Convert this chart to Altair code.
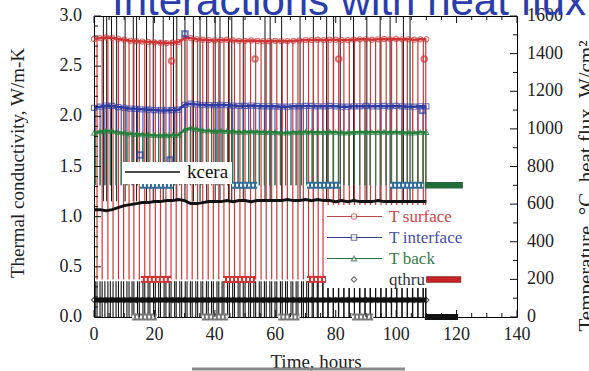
import altair as alt
import pandas as pd

# ---------------- data ----------------
hours = [0, 2, 4, 6, 8, 10, 12, 14, 16, 18, 20, 22, 24, 26, 28, 30, 32, 34, 36, 38,
         40, 42, 44, 46, 48, 50, 52, 54, 56, 58, 60, 62, 64, 66, 68, 70, 72, 74, 76, 78,
         80, 82, 84, 86, 88, 90, 92, 94, 96, 98, 100, 102, 104, 106, 108, 110]

t_surface = [1478, 1482, 1486, 1484, 1478, 1474, 1468, 1466, 1464, 1462,
             1460, 1458, 1456, 1458, 1462, 1484, 1482, 1476, 1474, 1472,
             1470, 1472, 1474, 1470, 1468, 1468, 1470, 1468, 1466, 1466,
             1468, 1466, 1466, 1468, 1470, 1472, 1472, 1474, 1472, 1474,
             1474, 1472, 1472, 1474, 1476, 1476, 1474, 1476, 1478, 1476,
             1478, 1476, 1476, 1474, 1476, 1476]

t_interface = [1112, 1118, 1124, 1122, 1116, 1112, 1108, 1106, 1104, 1102,
               1100, 1098, 1098, 1100, 1102, 1128, 1134, 1130, 1128, 1126,
               1126, 1128, 1126, 1124, 1122, 1122, 1124, 1122, 1120, 1120,
               1120, 1118, 1118, 1120, 1120, 1122, 1122, 1120, 1120, 1122,
               1120, 1118, 1118, 1120, 1120, 1122, 1120, 1120, 1122, 1120,
               1122, 1120, 1118, 1118, 1120, 1120]

t_back = [978, 986, 990, 988, 982, 978, 974, 972, 970, 968,
          966, 965, 965, 966, 968, 995, 1005, 998, 992, 990,
          988, 990, 988, 986, 984, 984, 986, 984, 982, 982,
          982, 980, 980, 982, 982, 984, 984, 982, 982, 984,
          982, 980, 980, 982, 984, 984, 982, 982, 984, 982,
          984, 982, 980, 980, 982, 982]

kcera = [1.07, 1.07, 1.06, 1.07, 1.09, 1.11, 1.12, 1.13, 1.14, 1.14,
         1.15, 1.15, 1.16, 1.16, 1.17, 1.16, 1.13, 1.13, 1.14, 1.15,
         1.15, 1.15, 1.16, 1.15, 1.16, 1.16, 1.15, 1.16, 1.16, 1.16,
         1.16, 1.16, 1.17, 1.16, 1.16, 1.17, 1.16, 1.17, 1.16, 1.16,
         1.15, 1.16, 1.15, 1.16, 1.15, 1.15, 1.15, 1.16, 1.15, 1.15,
         1.15, 1.15, 1.15, 1.15, 1.15, 1.15]

qthru = [91, 90, 90, 91, 90, 90, 91, 90, 90, 91,
         90, 90, 91, 90, 90, 91, 90, 90, 91, 90,
         90, 91, 90, 90, 91, 90, 90, 91, 90, 90,
         91, 90, 90, 91, 90, 90, 91, 90, 90, 91,
         90, 90, 91, 90, 90, 91, 90, 90, 91, 90,
         90, 91, 90, 90, 91, 90]

# times of the thermal cycles (vertical drops), hours
red_cycles = [1.0, 2.7, 4.6, 6.3, 8.1, 9.8, 11.6, 13.2, 15.0, 16.8, 18.5, 20.3, 22.0,
              23.8, 25.5, 27.2, 29.0, 30.8, 32.5, 34.3, 36.0, 37.8, 39.5, 41.3, 43.0,
              44.8, 46.5, 48.3, 50.0, 51.8, 53.5, 55.3, 57.0, 58.8, 60.5, 62.3, 64.0,
              65.8, 67.5, 69.3, 71.0, 72.6, 74.2, 75.8, 77.5, 79.2, 81.0, 82.7, 84.5,
              86.2, 88.0, 89.7, 91.5, 93.2, 95.0, 96.7, 98.5, 100.2, 102.0, 103.7,
              105.5, 107.2, 109.0, 109.8]
green_cycles = [0.4, 2.0, 3.6, 5.4, 7.3, 9.0, 10.9, 12.6, 14.4, 16.2, 17.9, 19.7, 21.4,
                23.2, 24.9, 26.7, 28.4, 30.2, 31.9, 33.7, 35.4, 37.2, 38.9, 40.7, 42.4,
                44.2, 45.9, 47.7, 49.4, 51.2, 52.9, 54.7, 56.4, 58.2, 59.9, 61.7, 63.4,
                65.2, 66.9, 68.7, 70.4, 72.2, 73.9, 75.7, 77.4, 79.2, 80.9, 82.7, 84.4,
                86.2, 87.9, 89.7, 91.4, 93.2, 94.9, 96.7, 98.4, 100.2, 101.9, 103.7,
                105.4, 107.2, 108.9, 109.8]
kcera_spikes = [3.1, 4.2, 5.8, 7.5, 10.3, 13.0, 14.1, 17.4, 19.6, 22.9, 26.3, 27.4,
                30.1, 32.9, 35.1, 37.3, 40.1, 41.7, 44.5, 45.6, 49.4, 56.6, 58.3, 62.1,
                68.2, 72.6, 77.0, 79.3, 81.5, 85.9, 90.3, 94.7, 98.0, 102.4, 104.6]

# levels reached during the drops
surface_low, back_low, qthru_peak, kcera_top = 200, 700, 190, 1600

# hold periods (start, end) recorded as dense markers
hold_700_start = [15.2, 45.7, 70.5, 98.0]
hold_700_end = [26.2, 54.0, 81.5, 109.0]
hold_200_start = [15.5, 42.7, 70.5, 98.0]
hold_200_end = [25.5, 53.3, 81.0, 109.0]
hold_0_start = [12.6, 35.7, 61.0, 85.4]
hold_0_end = [20.8, 44.4, 68.0, 92.4]
tail_start = [109.5, 110.0, 109.5]
tail_end = [122.0, 121.5, 120.5]
tail_level = [700, 200, 0]

# isolated points
out_surface_t = [25.7, 53.3, 81.0, 109.3]
out_surface_v = [1361, 1371, 1371, 1371]
out_interface_t = [15.2, 25.2, 30.1, 108.7]
out_interface_v = [861, 834, 1505, 1097]

# tick values
x_major = [0, 20, 40, 60, 80, 100, 120, 140]
x_minor = [5, 10, 15, 25, 30, 35, 45, 50, 55, 65, 70, 75, 85, 90, 95, 105, 110, 115,
           125, 130, 135]
left_major = [0.0, 0.5, 1.0, 1.5, 2.0, 2.5, 3.0]
left_minor = [0.1, 0.2, 0.3, 0.4, 0.6, 0.7, 0.8, 0.9, 1.1, 1.2, 1.3, 1.4, 1.6, 1.7,
              1.8, 1.9, 2.1, 2.2, 2.3, 2.4, 2.6, 2.7, 2.8, 2.9]
right_major = [0, 200, 400, 600, 800, 1000, 1200, 1400, 1600]
right_minor = [100, 300, 500, 700, 900, 1100, 1300, 1500]

K2C = 1600 / 3.0  # left axis 3.0 W/m-K <-> right axis 1600

# ---------------- styling ----------------
W, H = 423, 301
SERIF = "Liberation Serif"
RED, BLUE, GREEN, BLACK = "#d03434", "#2c3ca6", "#22803a", "#111111"
LABEL = "#222222"

XS = alt.Scale(domain=[0, 140], nice=False, zero=False)
YS = alt.Scale(domain=[0, 1600], nice=False, zero=False)


def X(f):
    return alt.X(f, type="quantitative", scale=XS, axis=None)


def Y(f):
    return alt.Y(f, type="quantitative", scale=YS, axis=None)


one = pd.DataFrame({"a": [0]})


def vrules(times, top, bottom, color, width=1.0, opacity=1.0, clip=False):
    df = pd.DataFrame({"t": times, "y1": [top] * len(times), "y2": [bottom] * len(times)})
    return alt.Chart(df).mark_rule(color=color, strokeWidth=width, opacity=opacity,
                                   clip=clip).encode(x=X("t"), y=Y("y1"), y2="y2:Q")


def hrules(starts, ends, levels, color, width, dash=None):
    df = pd.DataFrame({"t0": starts, "t1": ends, "v": levels})
    kw = dict(color=color, strokeWidth=width)
    if dash:
        kw["strokeDash"] = dash
    return alt.Chart(df).mark_rule(**kw).encode(x=X("t0"), x2="t1:Q", y=Y("v"))


series = pd.DataFrame({"t": hours, "ts": t_surface, "ti": t_interface, "tb": t_back,
                       "k": [v * K2C for v in kcera], "q": qthru})


def band(field, color, shape, lw, size):
    base = alt.Chart(series).encode(x=X("t"), y=Y(field))
    return [base.mark_line(color=color, strokeWidth=lw),
            base.mark_point(shape=shape, filled=False, color=color, size=size, strokeWidth=1.1)]


layers = []
# vertical cycle lines
layers.append(vrules(kcera_spikes, kcera_top, 615, BLACK, 1.0, 1.0, clip=True))
layers.append(vrules(red_cycles + green_cycles, qthru_peak, 0, BLACK, 1.1))
layers.append(vrules(green_cycles, 1118, back_low, "#3446ae", 1.1))
layers.append(vrules(red_cycles, 1472, surface_low, "#d03838", 1.2))
layers.append(vrules(green_cycles, 983, back_low, "#26803f", 1.1))

# hold periods (hatched marker strips)
layers.append(hrules(hold_700_start, hold_700_end, [700] * 4, "#2f6d96", 7))
layers.append(hrules(hold_700_start, hold_700_end, [700] * 4, "white", 3, [2, 2]))
layers.append(hrules(hold_200_start, hold_200_end, [200] * 4, RED, 7))
layers.append(hrules(hold_200_start, hold_200_end, [200] * 4, "white", 3, [2, 2]))
layers.append(hrules(hold_0_start, hold_0_end, [0] * 4, "#777777", 7))
layers.append(hrules(hold_0_start, hold_0_end, [0] * 4, "white", 3, [2, 2]))

# the series themselves
layers += band("tb", GREEN, "triangle-up", 2.5, 26)
layers += band("ti", BLUE, "square", 2.5, 26)
layers += band("ts", RED, "circle", 2.5, 26)
layers.append(alt.Chart(series).mark_line(color=BLACK, strokeWidth=3).encode(x=X("t"), y=Y("k")))
layers += band("q", BLACK, "diamond", 5, 26)

out_s = pd.DataFrame({"t": out_surface_t, "v": out_surface_v})
out_i = pd.DataFrame({"t": out_interface_t, "v": out_interface_v})
layers.append(alt.Chart(out_s).mark_point(shape="circle", filled=False, color=RED, size=30)
              .encode(x=X("t"), y=Y("v")))
layers.append(alt.Chart(out_i).mark_point(shape="square", filled=False, color=BLUE, size=30)
              .encode(x=X("t"), y=Y("v")))

# legend boxes
layers.append(alt.Chart(one).mark_rect(color="white").encode(
    x=alt.value(29), x2=alt.value(138), y=alt.value(146), y2=alt.value(168)))
layers.append(alt.Chart(one).mark_rule(color=BLACK, strokeWidth=1.5).encode(
    x=alt.value(31), x2=alt.value(86), y=alt.value(156)))
layers.append(alt.Chart(one).mark_text(text="kcera", font=SERIF, fontSize=19, align="left",
                                       baseline="middle", color=BLACK).encode(
    x=alt.value(93), y=alt.value(156)))

layers.append(alt.Chart(one).mark_rect(color="white").encode(
    x=alt.value(232), x2=alt.value(368), y=alt.value(189), y2=alt.value(272)))
leg_names = ["T\u2009surface", "T\u2009interface", "T\u2009back", "qthru"]
leg_text_col = ["#d24545", "#3f4fb2", "#3a7a4c", "#333333"]
leg_line_col = ["#b54848", "#323c86", "#2e6c44", None]
leg_shapes = ["circle", "square", "triangle-up", "diamond"]
for i, name in enumerate(leg_names):
    yy = 200.5 + 21 * i
    if leg_line_col[i]:
        layers.append(alt.Chart(one).mark_rule(color=leg_line_col[i], strokeWidth=1.2).encode(
            x=alt.value(233), x2=alt.value(288), y=alt.value(yy)))
    layers.append(alt.Chart(one).mark_point(shape=leg_shapes[i], filled=True, fill="white",
                                            stroke=leg_line_col[i] or "#333333", size=30,
                                            strokeWidth=1.1).encode(
        x=alt.value(260), y=alt.value(yy)))
    layers.append(alt.Chart(one).mark_text(text=name, font=SERIF, fontSize=17, align="left",
                                           baseline="middle", color=leg_text_col[i]).encode(
        x=alt.value(295), y=alt.value(yy)))

# tail after the end of the test
layers.append(hrules(tail_start, tail_end, tail_level, BLACK, 6))
layers.append(hrules(tail_start[:1], tail_end[:1], tail_level[:1], "#1f6e3a", 6))
layers.append(hrules(tail_start[1:2], tail_end[1:2], tail_level[1:2], "#c42424", 6))

# inward ticks


def yticks(vals, x0, x1):
    df = pd.DataFrame({"v": vals})
    return alt.Chart(df).mark_rule(color=BLACK, strokeWidth=1).encode(
        y=Y("v"), x=alt.value(x0), x2=alt.value(x1))


def xticks(vals, y0, y1):
    df = pd.DataFrame({"t": vals})
    return alt.Chart(df).mark_rule(color=BLACK, strokeWidth=1).encode(
        x=X("t"), y=alt.value(y0), y2=alt.value(y1))


layers.append(yticks([v * K2C for v in left_major], 0, 7))
layers.append(yticks([v * K2C for v in left_minor], 0, 4))
layers.append(yticks(right_major, W, W - 7))
layers.append(yticks(right_minor, W, W - 4))
layers.append(xticks(x_major, H, H - 7))
layers.append(xticks(x_minor, H, H - 4))
layers.append(xticks(x_major, 0, 7))
layers.append(xticks(x_minor, 0, 4))

# tick labels
xl = pd.DataFrame({"t": x_major, "lab": [str(v) for v in x_major]})
layers.append(alt.Chart(xl).mark_text(font=SERIF, fontSize=18, color=LABEL, align="center",
                                      baseline="middle").encode(
    x=X("t"), y=alt.value(H + 18), text="lab:N"))
ll = pd.DataFrame({"v": [v * K2C for v in left_major], "lab": [f"{v:.1f}" for v in left_major]})
layers.append(alt.Chart(ll).mark_text(font=SERIF, fontSize=18, color=LABEL, align="right",
                                      baseline="middle").encode(
    y=Y("v"), x=alt.value(-12), text="lab:N"))
rl = pd.DataFrame({"v": right_major, "lab": [str(v) for v in right_major]})
layers.append(alt.Chart(rl).mark_text(font=SERIF, fontSize=18, color=LABEL, align="left",
                                      baseline="middle").encode(
    y=Y("v"), x=alt.value(W + 10), text="lab:N"))

# titles
layers.append(alt.Chart(one).mark_text(text="Interactions with heat flux", font="Liberation Sans",
                                       fontSize=42, align="left", baseline="alphabetic",
                                       color="#2a3cae").encode(x=alt.value(18), y=alt.value(-1)))
layers.append(alt.Chart(one).mark_text(text="Thermal conductivity, W/m-K", font=SERIF, fontSize=19,
                                       angle=270, align="center", baseline="middle",
                                       color=LABEL).encode(x=alt.value(-76), y=alt.value(147)))
layers.append(alt.Chart(one).mark_text(text="Temperature, °C, heat flux, W/cm²", font=SERIF,
                                       fontSize=21, angle=270, align="center", baseline="top",
                                       color=LABEL).encode(x=alt.value(482), y=alt.value(170)))
layers.append(alt.Chart(one).mark_text(text="Time, hours", font=SERIF, fontSize=19, align="center",
                                       baseline="middle", color=LABEL).encode(
    x=alt.value(222), y=alt.value(346)))
layers.append(alt.Chart(one).mark_rule(color="#8a8a8a", strokeWidth=3).encode(
    x=alt.value(98), x2=alt.value(311), y=alt.value(353)))

chart = alt.layer(*layers).properties(
    width=W, height=H,
    padding={"left": 94, "top": 16, "right": 72, "bottom": 54},
    autosize=alt.AutoSizeParams(type="none"),
    background="white",
).configure_view(stroke="black", strokeWidth=1)

chart.save("out.html", embed_options={"renderer": "svg", "actions": False})
